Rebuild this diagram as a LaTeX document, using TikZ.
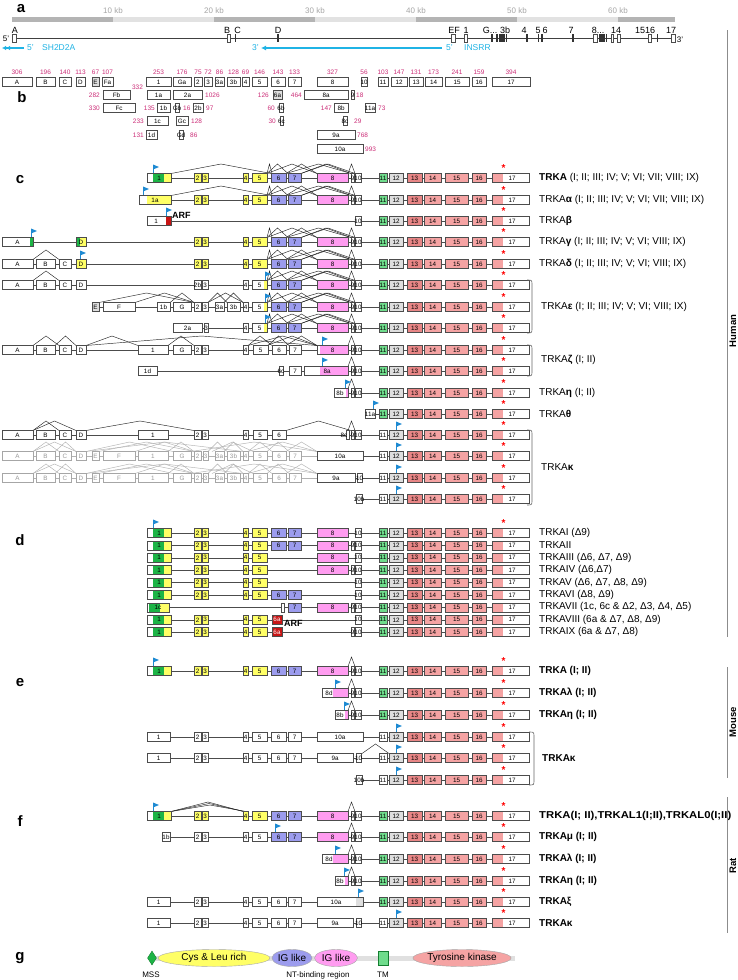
\documentclass[tikz,border=0pt]{standalone}
\usepackage{fontspec}
\setmainfont{Liberation Sans}
\usetikzlibrary{shapes.geometric,arrows.meta}
\definecolor{cy}{HTML}{1FB3E5}
\definecolor{mg}{HTML}{CC2E78}
\definecolor{gA}{HTML}{1DB446}
\definecolor{yE}{HTML}{FFFF66}
\definecolor{bE}{HTML}{9C9CEE}
\definecolor{pE}{HTML}{FF9CF0}
\definecolor{g11}{HTML}{6FDC8C}
\definecolor{g12}{HTML}{DEDEDE}
\definecolor{s13}{HTML}{E88686}
\definecolor{sE}{HTML}{F5A3A3}
\definecolor{rE}{HTML}{C81414}
\definecolor{fl}{HTML}{1E8AD2}
\definecolor{bar1}{HTML}{B4B4B4}
\definecolor{bar2}{HTML}{E2E2E2}
\tikzset{
 exb/.style={draw=black!70,line width=0.55pt},
 gexb/.style={draw=black!35,line width=0.55pt},
 exl/.style={font=\fontsize{6.3}{6.3}\selectfont,inner sep=0pt},
 gexl/.style={exl,text=black!40},
 intr/.style={draw=black!70,line width=0.6pt},
 gintr/.style={draw=black!30,line width=0.6pt},
 spl/.style={draw=black!85,line width=0.45pt},
 gspl/.style={draw=black!30,line width=0.45pt},
 rl/.style={anchor=west,font=\fontsize{10}{12}\selectfont,inner sep=0pt},
 rlb/.style={anchor=west,font=\bfseries\fontsize{10}{12}\selectfont,inner sep=0pt},
 sec/.style={font=\bfseries\fontsize{15}{15}\selectfont,inner sep=0pt},
 num/.style={text=mg,font=\fontsize{6.5}{6.5}\selectfont,inner sep=0pt},
 kb/.style={text=black!35,font=\fontsize{8}{8}\selectfont,inner sep=0pt},
 gl/.style={font=\fontsize{9}{9}\selectfont,inner sep=0pt},
 cyt/.style={text=cy,font=\fontsize{8.5}{8.5}\selectfont,inner sep=0pt},
 brk/.style={draw=black!60,line width=0.6pt},
 side/.style={font=\bfseries\fontsize{9.5}{9.5}\selectfont,inner sep=0pt,rotate=90},
 sidel/.style={draw=black!45,line width=0.6pt},
 arf/.style={font=\bfseries\fontsize{9}{9}\selectfont,inner sep=0pt,anchor=west},
}
% exon box: x1 x2 y fill label
\newcommand\BX[5]{\filldraw[exb,fill=#4] (#1,#3-4.5) rectangle (#2,#3+4.5);\node[exl] at ({(#1+#2)/2},#3) {#5};}
\newcommand\GB[4]{\filldraw[gexb,fill=white] (#1,#3-4.5) rectangle (#2,#3+4.5);\node[gexl] at ({(#1+#2)/2},#3) {#4};}
\newcommand\BXX[7]{\fill[#5] (#1,#4-4.5) rectangle (#2,#4+4.5);\fill[#6] (#2,#4-4.5) rectangle (#3,#4+4.5);\draw[exb] (#1,#4-4.5) rectangle (#3,#4+4.5);\node[exl] at ({(#1+#3)/2},#4) {#7};}
\newcommand\BXXX[9]{\fill[#6] (#1,#5-4.5) rectangle (#2,#5+4.5);\fill[#7] (#2,#5-4.5) rectangle (#3,#5+4.5);\fill[#8] (#3,#5-4.5) rectangle (#4,#5+4.5);\draw[exb] (#1,#5-4.5) rectangle (#4,#5+4.5);\node[exl] at ({(#1+#4)/2},#5) {#9};}
\newcommand\IL[3]{\draw[intr] (#1,#3) -- (#2,#3);}
\newcommand\GIL[3]{\draw[gintr] (#1,#3) -- (#2,#3);}
\newcommand\AR[3]{\draw[spl] (#1,#3-4.5) -- ({(#1+#2)/2},#3-14) -- (#2,#3-4.5);}
\newcommand\GAR[3]{\draw[gspl] (#1,#3-4.5) -- ({(#1+#2)/2},#3-14) -- (#2,#3-4.5);}
\newcommand\FL[2]{\draw[fl,line width=0.6pt] (#1,#2-13.5) -- (#1,#2-5.5);\fill[fl] (#1,#2-13.5) -- (#1+6,#2-11) -- (#1,#2-8.5) -- cycle;}
\newcommand\AST[1]{\node[text=red,font=\bfseries\fontsize{10}{10}\selectfont,inner sep=0pt] at (503.5,#1-10) {*};}
\newcommand\TLr[1]{\BX{389}{403}{#1}{g12}{12}\BX{407}{422}{#1}{s13}{13}\BX{424}{441}{#1}{sE}{14}\BX{445}{468}{#1}{sE}{15}\BX{472}{486}{#1}{sE}{16}\BXX{492}{503}{529}{#1}{sE}{white}{}\node[exl] at (512,#1) {17};}
\newcommand\TLg[1]{\IL{379}{529}{#1}\BX{379}{387}{#1}{g11}{11}\TLr{#1}}
\newcommand\TLw[1]{\IL{379}{529}{#1}\BX{379}{387}{#1}{white}{11}\TLr{#1}\FL{396}{#1}}
\newcommand\NT[1]{\BX{351}{354}{#1}{white}{9}\BX{355}{361}{#1}{white}{10}}
\newcommand\TEN[1]{\BX{355}{361}{#1}{white}{10}}
\newcommand\CL[1]{\AR{267}{272}{#1}\AR{267}{288}{#1}\AR{267}{317}{#1}\AR{286}{317}{#1}\AR{286}{351}{#1}\AR{301}{351}{#1}\AR{301}{355}{#1}\AR{348}{355}{#1}}
\newcommand\YEL[1]{\BX{194}{201}{#1}{yE}{2}\BX{202}{208}{#1}{yE}{3}\BX{243}{248}{#1}{yE}{4}\BX{252}{267}{#1}{yE}{5}}
\newcommand\BLU[1]{\BX{271}{286}{#1}{bE}{6}\BX{288}{301}{#1}{bE}{7}}
\newcommand\PNK[1]{\BX{317}{348}{#1}{pE}{8}}
\newcommand\WHT[1]{\BX{194}{201}{#1}{white}{2}\BX{202}{208}{#1}{white}{3}\BX{243}{248}{#1}{white}{4}\BX{252}{267}{#1}{white}{5}\BX{271}{286}{#1}{white}{6}\BX{288}{301}{#1}{white}{7}}
\newcommand\ONE[1]{\BXXX{147}{153}{164}{171}{#1}{white}{gA}{yE}{1}}
\newcommand\ABCD[1]{\BX{2}{33}{#1}{white}{A}\BX{36}{55}{#1}{white}{B}\BX{59}{71}{#1}{white}{C}\BX{76}{86}{#1}{white}{D}}
\newcommand\GROW[1]{\GIL{2}{317}{#1}%
 \GAR{33}{59}{#1}\GAR{55}{76}{#1}\GAR{33}{76}{#1}\GAR{86}{173}{#1}\GAR{86}{243}{#1}\GAR{99}{194}{#1}\GAR{135}{194}{#1}\GAR{168}{194}{#1}\GAR{208}{227}{#1}\GAR{224}{243}{#1}\GAR{212}{253}{#1}\GAR{248}{272}{#1}\GAR{267}{289}{#1}\GAR{286}{317}{#1}\GAR{248}{317}{#1}\GAR{191}{317}{#1}%
 \GB{2}{33}{#1}{A}\GB{36}{55}{#1}{B}\GB{59}{71}{#1}{C}\GB{76}{86}{#1}{D}\GB{92}{99}{#1}{E}\GB{103}{135}{#1}{F}\GB{138}{168}{#1}{1}\GB{173}{191}{#1}{G}\GB{194}{201}{#1}{2}\GB{203}{208}{#1}{3}\GB{215}{224}{#1}{3a}\GB{227}{240}{#1}{3b}\GB{243}{248}{#1}{4}\GB{253}{267}{#1}{5}\GB{272}{286}{#1}{6}\GB{289}{301}{#1}{7}}
\newcommand\RL[2]{\node[rl] at (539,#1) {#2};}
\newcommand\RLB[2]{\node[rlb] at (539,#1) {#2};}
\newcommand\BRK[3]{\draw[brk] (#1-5,#2) .. controls (#1,#2) .. (#1,#2+5) -- (#1,#3-5) .. controls (#1,#3) .. (#1-5,#3);}
\newcommand\NUM[4][center]{\node[num,anchor=#1] at (#2,#3) {#4};}
\newcommand\GM[2]{\filldraw[exb,fill=white] (#1,34) rectangle (#2,42);}
\newcommand\GT[1]{\draw[black!80,line width=1.1pt] (#1,34) -- (#1,42);}
\begin{document}
\begin{tikzpicture}[x=1pt,y=-1pt]
\useasboundingbox (0,0) rectangle (737,980);
\fill[white] (0,0) rectangle (737,980);
% ================= a
\node[sec] at (21,9) {a};
\fill[bar1] (12,16.5) rectangle (113,21.5);
\fill[bar2] (113,16.5) rectangle (214,21.5);
\fill[bar1] (214,16.5) rectangle (315,21.5);
\fill[bar2] (315,16.5) rectangle (416,21.5);
\fill[bar1] (416,16.5) rectangle (517,21.5);
\fill[bar2] (517,16.5) rectangle (618,21.5);
\fill[bar1] (618,16.5) rectangle (675,21.5);
\foreach \k/\x in {10/113,20/214,30/315,40/416,50/517,60/618} \node[kb] at (\x,11) {\k\ kb};
\draw[black!75,line width=0.6pt] (12,38) -- (673,38);
\GM{12}{16}\GM{227}{230}\GT{235.5}\GT{278}\GM{451}{455}\GM{464.5}{467}
\GT{492}\GT{497}\GT{500}\GT{502}\GT{504}\GT{506.5}\GT{527}\GT{538.5}\GT{542}\GT{573}
\GM{593}{597}\GT{600}\GT{602}\GT{604}\GT{606.5}\GM{611.5}{613.5}\GM{617}{620}\GM{648}{651}\GT{657.5}\GM{671}{675}
\node[gl] at (15,30) {A};\node[gl] at (227,30) {B};\node[gl] at (237.5,30) {C};\node[gl] at (278,30) {D};
\node[gl] at (454,30) {EF};\node[gl] at (466,30) {1};\node[gl] at (490,30) {G...};\node[gl] at (505,30) {3b};
\node[gl] at (524,30) {4};\node[gl] at (538,30) {5};\node[gl] at (545,30) {6};\node[gl] at (571,30) {7};
\node[gl] at (598,30) {8...};\node[gl] at (616,30) {14};\node[gl] at (640,30) {15};\node[gl] at (650,30) {16};\node[gl] at (671,30) {17};
\node[gl,font=\fontsize{8}{8}\selectfont] at (6,39) {5'};
\node[gl,font=\fontsize{8}{8}\selectfont] at (680,39.5) {3'};
\draw[cy,line width=1.3pt,-{Latex[length=4pt,width=4.5pt]Latex[length=4pt,width=4.5pt]}] (24,48) -- (2,48);
\node[cyt,anchor=west] at (27,48) {5'};
\node[cyt,anchor=west] at (42,48) {SH2D2A};
\node[cyt,anchor=east] at (259,48) {3'};
\draw[cy,line width=1.3pt,-{Latex[length=5pt,width=5pt]}] (442,48) -- (261,48);
\node[cyt,anchor=west] at (446,48) {5'};
\node[cyt,anchor=west] at (464,48) {INSRR};
% ================= b
\node[sec] at (22,97) {b};
\BX{2}{32}{82}{white}{A}\NUM{17}{72}{306}
\BX{36}{55}{82}{white}{B}\NUM{45.5}{72}{196}
\BX{59}{71}{82}{white}{C}\NUM{65}{72}{140}
\BX{76}{85}{82}{white}{D}\NUM{80.5}{72}{113}
\BX{92}{99}{82}{g12}{E}\NUM{95.5}{72}{67}
\BX{102}{113}{82}{white}{Fa}\NUM{107.5}{72}{107}
\BX{146}{171}{82}{white}{1}\NUM{158.5}{72}{253}
\BX{173}{191}{82}{white}{Ga}\NUM{182}{72}{176}
\BX{194}{202}{82}{white}{2}\NUM{198}{72}{75}
\BX{204}{212}{82}{white}{3}\NUM{208}{72}{72}
\BX{215}{224}{82}{white}{3a}\NUM{219.5}{72}{86}
\BX{227}{240}{82}{white}{3b}\NUM{233.5}{72}{128}
\BX{242}{249}{82}{white}{4}\NUM{245.5}{72}{69}
\BX{252}{267}{82}{white}{5}\NUM{259.5}{72}{146}
\BX{271}{285}{82}{white}{6}\NUM{278}{72}{143}
\BX{288}{301}{82}{white}{7}\NUM{294.5}{72}{133}
\BX{317}{348}{82}{white}{8}\NUM{332.5}{72}{327}
\BX{361}{367}{82}{white}{10}\NUM{364}{72}{56}
\BX{378}{388}{82}{white}{11}\NUM{383}{72}{103}
\BX{391}{407}{82}{white}{12}\NUM{399}{72}{147}
\BX{409}{423}{82}{white}{13}\NUM{416}{72}{131}
\BX{425}{442}{82}{white}{14}\NUM{433.5}{72}{173}
\BX{445}{469}{82}{white}{15}\NUM{457}{72}{241}
\BX{472}{486}{82}{white}{16}\NUM{479}{72}{159}
\BX{492}{530}{82}{white}{17}\NUM{511}{72}{394}
\NUM{137.5}{87}{332}
% row 2
\BX{103}{130}{95}{white}{Fb}\NUM[east]{100}{95}{282}
\BX{147}{170}{95}{white}{1a}
\BX{173}{202}{95}{white}{2a}\NUM[west]{205}{95}{1026}
\BX{273}{282}{95}{g12}{6a}\NUM[east]{269}{95}{126}
\BX{304}{348}{95}{white}{8a}\NUM[east]{302}{95}{464}
\BX{351}{354}{95}{white}{9}\NUM[west]{356}{95}{18}
% row 3
\BX{103}{135}{108}{white}{Fc}\NUM[east]{100}{108}{330}
\BX{157}{170}{108}{white}{1b}\NUM[east]{155}{108}{135}
\BX{175}{179}{108}{white}{Gb}\NUM[west]{183}{108}{16}
\BX{193}{203}{108}{white}{2b}\NUM[west]{206}{108}{97}
\BX{279}{283}{108}{white}{6b}\NUM[east]{275}{108}{60}
\BX{334}{348}{108}{white}{8b}\NUM[east]{332}{108}{147}
\BX{365}{375}{108}{white}{11a}\NUM[west]{378}{108}{73}
% row 4
\BX{147}{168}{121}{white}{1c}\NUM[east]{144}{121}{233}
\BX{176}{188}{121}{white}{Gc}\NUM[west]{191}{121}{128}
\BX{280}{283}{121}{white}{6c}\NUM[east]{276}{121}{30}
\BX{343}{347}{121}{white}{8c}\NUM[west]{354}{121}{29}
% row 5
\BX{146}{157}{135}{white}{1d}\NUM[east]{144}{135}{131}
\BX{179}{183}{135}{white}{Gd}\NUM[west]{190}{135}{86}
\BX{317}{355}{135}{white}{9a}\NUM[west]{357}{135}{768}
% row 6
\BX{317}{363}{149}{white}{10a}\NUM[west]{365}{149}{993}
% ================= c
\node[sec] at (20,180) {c};
% TRKA
\IL{147}{379}{178}\AR{171}{271}{178}\CL{178}
\ONE{178}\FL{153}{178}\YEL{178}\BLU{178}\PNK{178}\NT{178}\TLg{178}\AST{178}
\RL{178}{\textbf{TRKA} (I; II; III; IV; V; VI; VII; VIII; IX)}
% alpha
\IL{139}{379}{200}\AR{171}{271}{200}\CL{200}
\BXX{139}{147}{171}{200}{white}{yE}{1a}\FL{143}{200}\YEL{200}\BLU{200}\PNK{200}\NT{200}\TLg{200}\AST{200}
\RL{200}{TRKA\textbf{α} (I; II; III; IV; V; VI; VII; VIII; IX)}
% beta
\IL{147}{379}{221}
\BXX{147}{166}{171}{221}{white}{rE}{}\node[exl] at (156,221) {1};\FL{166}{221}\node[arf] at (172,215) {ARF};
\TEN{221}\TLg{221}\AST{221}
\RL{221}{TRKA\textbf{β}}
% gamma
\IL{2}{379}{242}\CL{242}
\BXX{2}{30}{33}{242}{white}{gA}{A}\FL{31}{242}\BXX{76}{80}{86}{242}{gA}{yE}{D}
\YEL{242}\BLU{242}\PNK{242}\NT{242}\TLg{242}\AST{242}
\RL{242}{TRKA\textbf{γ} (I; II; III; IV; V; VI; VIII; IX)}
% delta
\IL{2}{379}{264}\AR{33}{59}{264}\CL{264}
\BX{2}{33}{264}{white}{A}\BX{36}{55}{264}{white}{B}\BX{59}{71}{264}{white}{C}\BX{76}{86}{264}{yE}{D}\FL{80}{264}
\YEL{264}\BLU{264}\PNK{264}\NT{264}\TLg{264}\AST{264}
\RL{264}{TRKA\textbf{δ} (I; II; III; IV; V; VI; VIII; IX)}
% epsilon 1
\IL{2}{379}{285}\AR{33}{59}{285}\CL{285}
\ABCD{285}\BX{194}{201}{285}{white}{2b}\BX{202}{208}{285}{white}{3}\BX{243}{248}{285}{white}{4}\BXX{252}{264}{267}{285}{white}{yE}{5}\FL{265}{285}
\BLU{285}\PNK{285}\NT{285}\TLg{285}\AST{285}
% epsilon 2
\IL{92}{379}{307}\AR{99}{194}{307}\AR{135}{194}{307}\AR{170}{194}{307}\AR{208}{227}{307}\AR{224}{243}{307}\AR{208}{243}{307}\CL{307}
\BX{92}{99}{307}{g12}{E}\BX{103}{135}{307}{white}{F}\BX{157}{170}{307}{white}{1b}\BX{173}{191}{307}{white}{G}
\BX{194}{201}{307}{white}{2}\BX{202}{208}{307}{white}{3}\BX{215}{224}{307}{white}{3a}\BX{227}{240}{307}{white}{3b}\BX{243}{248}{307}{white}{4}
\BXX{252}{264}{267}{307}{white}{yE}{5}\FL{265}{307}\BLU{307}\PNK{307}\NT{307}\TLg{307}\AST{307}
% epsilon 3
\IL{173}{379}{328}\CL{328}
\BX{173}{202}{328}{white}{2a}\BX{204}{208}{328}{white}{3}\BX{243}{248}{328}{white}{4}\BXX{252}{264}{267}{328}{white}{yE}{5}\FL{265}{328}
\BLU{328}\PNK{328}\NT{328}\TLg{328}\AST{328}
\BRK{532}{280}{333}
\node[rl] at (541,307) {TRKA\textbf{ε} (I; II; III; IV; V; VI; VIII; IX)};
% zeta 1
\IL{2}{379}{350}
\AR{33}{59}{350}\AR{55}{76}{350}\AR{86}{138}{350}\AR{86}{317}{350}\AR{168}{194}{350}\AR{248}{317}{350}\AR{267}{317}{350}\AR{248}{272}{350}\AR{268}{289}{350}\AR{286}{317}{350}\AR{348}{355}{350}
\ABCD{350}\BX{138}{168}{350}{white}{1}\BX{173}{191}{350}{white}{G}\BX{194}{201}{350}{white}{2}\BX{202}{208}{350}{white}{3}
\BX{243}{248}{350}{white}{4}\BX{253}{268}{350}{white}{5}\BX{272}{286}{350}{white}{6}\BX{289}{301}{350}{white}{7}
\BXX{317}{320}{348}{350}{white}{pE}{8}\FL{322}{350}\NT{350}\TLg{350}\AST{350}
% zeta 2
\IL{138}{379}{371}\AR{348}{355}{371}
\BX{138}{157}{371}{white}{1d}\BX{279}{283}{371}{white}{6c}\BX{289}{301}{371}{white}{7}
\BXX{304}{320}{348}{371}{white}{pE}{}\node[exl] at (327,371) {8a};\FL{322}{371}\NT{371}\TLg{371}\AST{371}
\BRK{532}{345}{376}
\node[rl] at (541,360) {TRKA\textbf{ζ} (I; II)};
% eta
\IL{334}{379}{393}\AR{348}{355}{393}
\BXX{334}{346}{348}{393}{white}{pE}{}\node[exl] at (340,393) {8b};\FL{345}{393}\NT{393}\TLg{393}\AST{393}
\RL{393}{TRKA\textbf{η} (I; II)}
% theta
\IL{365}{379}{414}\BX{365}{375}{414}{white}{11a}\FL{373}{414}\TLg{414}\AST{414}
\RL{414}{TRKA\textbf{θ}}
% kappa 1
\IL{2}{379}{435}\AR{33}{59}{435}\AR{33}{76}{435}\AR{86}{194}{435}\AR{286}{351}{435}\AR{348}{355}{435}
\ABCD{435}\BX{138}{168}{435}{white}{1}\BX{194}{201}{435}{white}{2}\BX{202}{208}{435}{white}{3}\BX{243}{248}{435}{white}{4}
\BX{253}{267}{435}{white}{5}\BX{272}{286}{435}{white}{6}\BX{346}{349}{435}{white}{}\node[exl] at (344,435) {8c};
\NT{435}\TLw{435}\AST{435}
% kappa 2
\GROW{456}\IL{317}{379}{456}\BX{317}{363}{456}{white}{10a}\TLw{456}\AST{456}
% kappa 3
\GROW{478}\IL{317}{379}{478}\BX{317}{355}{478}{white}{9a}\BX{357}{362}{478}{white}{10}\TLw{478}\AST{478}
% kappa 4
\IL{356}{379}{499}\BX{356}{362}{499}{white}{10b}\TLw{499}\AST{499}
\BRK{532}{430}{505}
\node[rl] at (541,467) {TRKA\textbf{κ}};
% ================= d
\node[sec] at (20,540) {d};
\IL{147}{379}{533}\ONE{533}\FL{153}{533}\YEL{533}\BLU{533}\PNK{533}\TEN{533}\TLg{533}\AST{533}
\RL{533}{TRKAI (Δ9)}
\IL{147}{379}{545.4}\ONE{545.4}\YEL{545.4}\BLU{545.4}\PNK{545.4}\NT{545.4}\TLg{545.4}
\RL{545.4}{TRKAII}
\IL{147}{379}{557.8}\ONE{557.8}\YEL{557.8}\PNK{557.8}\TEN{557.8}\TLg{557.8}
\RL{557.8}{TRKAIII (Δ6, Δ7, Δ9)}
\IL{147}{379}{570.2}\ONE{570.2}\YEL{570.2}\PNK{570.2}\NT{570.2}\TLg{570.2}
\RL{570.2}{TRKAIV (Δ6,Δ7)}
\IL{147}{379}{582.6}\ONE{582.6}\YEL{582.6}\TEN{582.6}\TLg{582.6}
\RL{582.6}{TRKAV (Δ6, Δ7, Δ8, Δ9)}
\IL{147}{379}{595}\ONE{595}\YEL{595}\BLU{595}\TEN{595}\TLg{595}
\RL{595}{TRKAVI (Δ8, Δ9)}
\IL{147}{379}{607.4}\BXXX{147}{149}{160}{169}{607.4}{white}{gA}{yE}{1c}\BX{281}{284}{607.4}{white}{}\BX{288}{301}{607.4}{bE}{7}\PNK{607.4}\NT{607.4}\TLg{607.4}
\RL{607.4}{TRKAVII (1c, 6c \& Δ2, Δ3, Δ4, Δ5)}
\IL{147}{379}{619.8}\ONE{619.8}\YEL{619.8}\filldraw[exb,fill=rE] (272,615.3) rectangle (282,624.3);\node[exl,text=white] at (277,619.8) {6a};\node[arf] at (284,623.5) {ARF};\TEN{619.8}\TLg{619.8}
\RL{619.8}{TRKAVIII (6a \& Δ7, Δ8, Δ9)}
\IL{147}{379}{632.2}\ONE{632.2}\YEL{632.2}\filldraw[exb,fill=rE] (272,627.7) rectangle (282,636.7);\node[exl,text=white] at (277,632.2) {6a};\NT{632.2}\TLg{632.2}
\RL{632.2}{TRKAIX (6a \& Δ7, Δ8)}
% ================= e
\node[sec] at (20,683) {e};
\IL{147}{379}{671}\AR{348}{355}{671}\ONE{671}\FL{153}{671}\YEL{671}\BLU{671}\PNK{671}\NT{671}\TLg{671}\AST{671}
\RLB{671}{TRKA (I; II)}
\IL{322}{379}{693}\AR{348}{355}{693}\BXX{322}{333}{348}{693}{white}{pE}{}\node[exl] at (329,693) {8d};\FL{335}{693}\NT{693}\TLg{693}\AST{693}
\RLB{693}{TRKAλ (I; II)}
\IL{335}{379}{715}\AR{348}{355}{715}\BXX{335}{345}{348}{715}{white}{pE}{}\node[exl] at (340,715) {8b};\FL{344}{715}\NT{715}\TLg{715}\AST{715}
\RLB{715}{TRKAη (I; II)}
\IL{147}{379}{737}\BX{147}{170}{737}{white}{1}\WHT{737}\BX{317}{363}{737}{white}{10a}\TLw{737}\AST{737}
\IL{147}{379}{758}\AR{362}{389}{758}\BX{147}{170}{758}{white}{1}\WHT{758}\BX{317}{353}{758}{white}{9a}\BX{356}{361}{758}{white}{10}\TLw{758}\AST{758}
\IL{356}{379}{780}\BX{356}{362}{780}{white}{10b}\TLw{780}\AST{780}
\BRK{534}{732}{785}
\node[rlb] at (542,758) {TRKAκ};
% ================= f
\node[sec] at (20,821) {f};
\IL{147}{379}{816}\AR{348}{355}{816}
\draw[spl] (171,811.5) -- (208,802) -- (243,811.5);
\draw[spl] (171,811.5) -- (209,803.5) -- (244.5,811.5);
\draw[spl] (171,811.5) -- (210,805) -- (246,811.5);
\ONE{816}\FL{153}{816}\YEL{816}\BLU{816}\PNK{816}\NT{816}\TLg{816}\AST{816}
\node[rlb] at (539,816) {\scalebox{1.13}[1]{TRKA(I; II),TRKAL1(I;II),TRKAL0(I;II)}};
\IL{162}{379}{837}\AR{348}{355}{837}\BX{162}{170}{837}{white}{1b}\BX{194}{201}{837}{white}{2}\BX{202}{208}{837}{white}{3}\BX{243}{248}{837}{white}{4}\BX{252}{267}{837}{white}{5}
\BLU{837}\FL{275}{837}\PNK{837}\NT{837}\TLg{837}\AST{837}
\RLB{837}{TRKAμ (I; II)}
\IL{322}{379}{859}\AR{348}{355}{859}\BXX{322}{333}{348}{859}{white}{pE}{}\node[exl] at (329,859) {8d};\FL{335}{859}\NT{859}\TLg{859}\AST{859}
\RLB{859}{TRKAλ (I; II)}
\IL{335}{379}{881}\AR{348}{355}{881}\BXX{335}{345}{348}{881}{white}{pE}{}\node[exl] at (340,881) {8b};\FL{344}{881}\NT{881}\TLg{881}\AST{881}
\RLB{881}{TRKAη (I; II)}
\IL{147}{379}{902}\BX{147}{170}{902}{white}{1}\WHT{902}\BXX{317}{356}{363}{902}{white}{g12}{}\node[exl] at (336,902) {10a};\FL{358}{902}\TLg{902}\AST{902}
\RLB{902}{TRKAξ}
\IL{147}{379}{923}\BX{147}{170}{923}{white}{1}\WHT{923}\BX{317}{353}{923}{white}{9a}\BX{356}{361}{923}{white}{10}\TLw{923}\AST{923}
\RLB{923}{TRKAκ}
% ================= g
\node[sec] at (20,958) {g};
\fill[black!12] (152,956) rectangle (515,960.5);
\node[diamond,fill=gA,draw=gA!70!black,minimum width=9pt,minimum height=14pt,inner sep=0pt] (mss) at (152,958) {};
\node[ellipse,draw=black!35,fill=yE,minimum width=112pt,minimum height=17pt,inner sep=0pt,font=\fontsize{10}{10}\selectfont] (cys) at (214,958) {Cys \& Leu rich};
\node[ellipse,draw=black!35,fill=bE,minimum width=36pt,minimum height=17pt,inner sep=0pt,font=\fontsize{10}{10}\selectfont] (ig1) at (292,958) {IG like};
\node[ellipse,draw=black!35,fill=pE,minimum width=43pt,minimum height=17pt,inner sep=0pt,font=\fontsize{10}{10}\selectfont] (ig2) at (336,958) {IG like};
\filldraw[draw=gA!70!black,fill=g11,line width=0.4pt] (378,951) rectangle (388,965);
\node[ellipse,draw=black!35,fill=sE,minimum width=92pt,minimum height=17pt,inner sep=0pt,font=\fontsize{10}{10}\selectfont] (tk) at (462,958) {Tyrosine kinase};
\node[font=\fontsize{8}{8}\selectfont,inner sep=0pt] at (151,975) {MSS};
\node[font=\fontsize{8}{8}\selectfont,inner sep=0pt] at (318,975) {NT-binding region};
\node[font=\fontsize{8}{8}\selectfont,inner sep=0pt] at (383,975) {TM};
% ================= side labels
\draw[sidel] (727,30) -- (727,637);
\node[side] at (733,331) {Human};
\draw[sidel] (727,667) -- (727,778);
\node[side] at (733,722) {Mouse};
\draw[sidel] (727,797) -- (727,933);
\node[side] at (733,866) {Rat};
\end{tikzpicture}
\end{document}
